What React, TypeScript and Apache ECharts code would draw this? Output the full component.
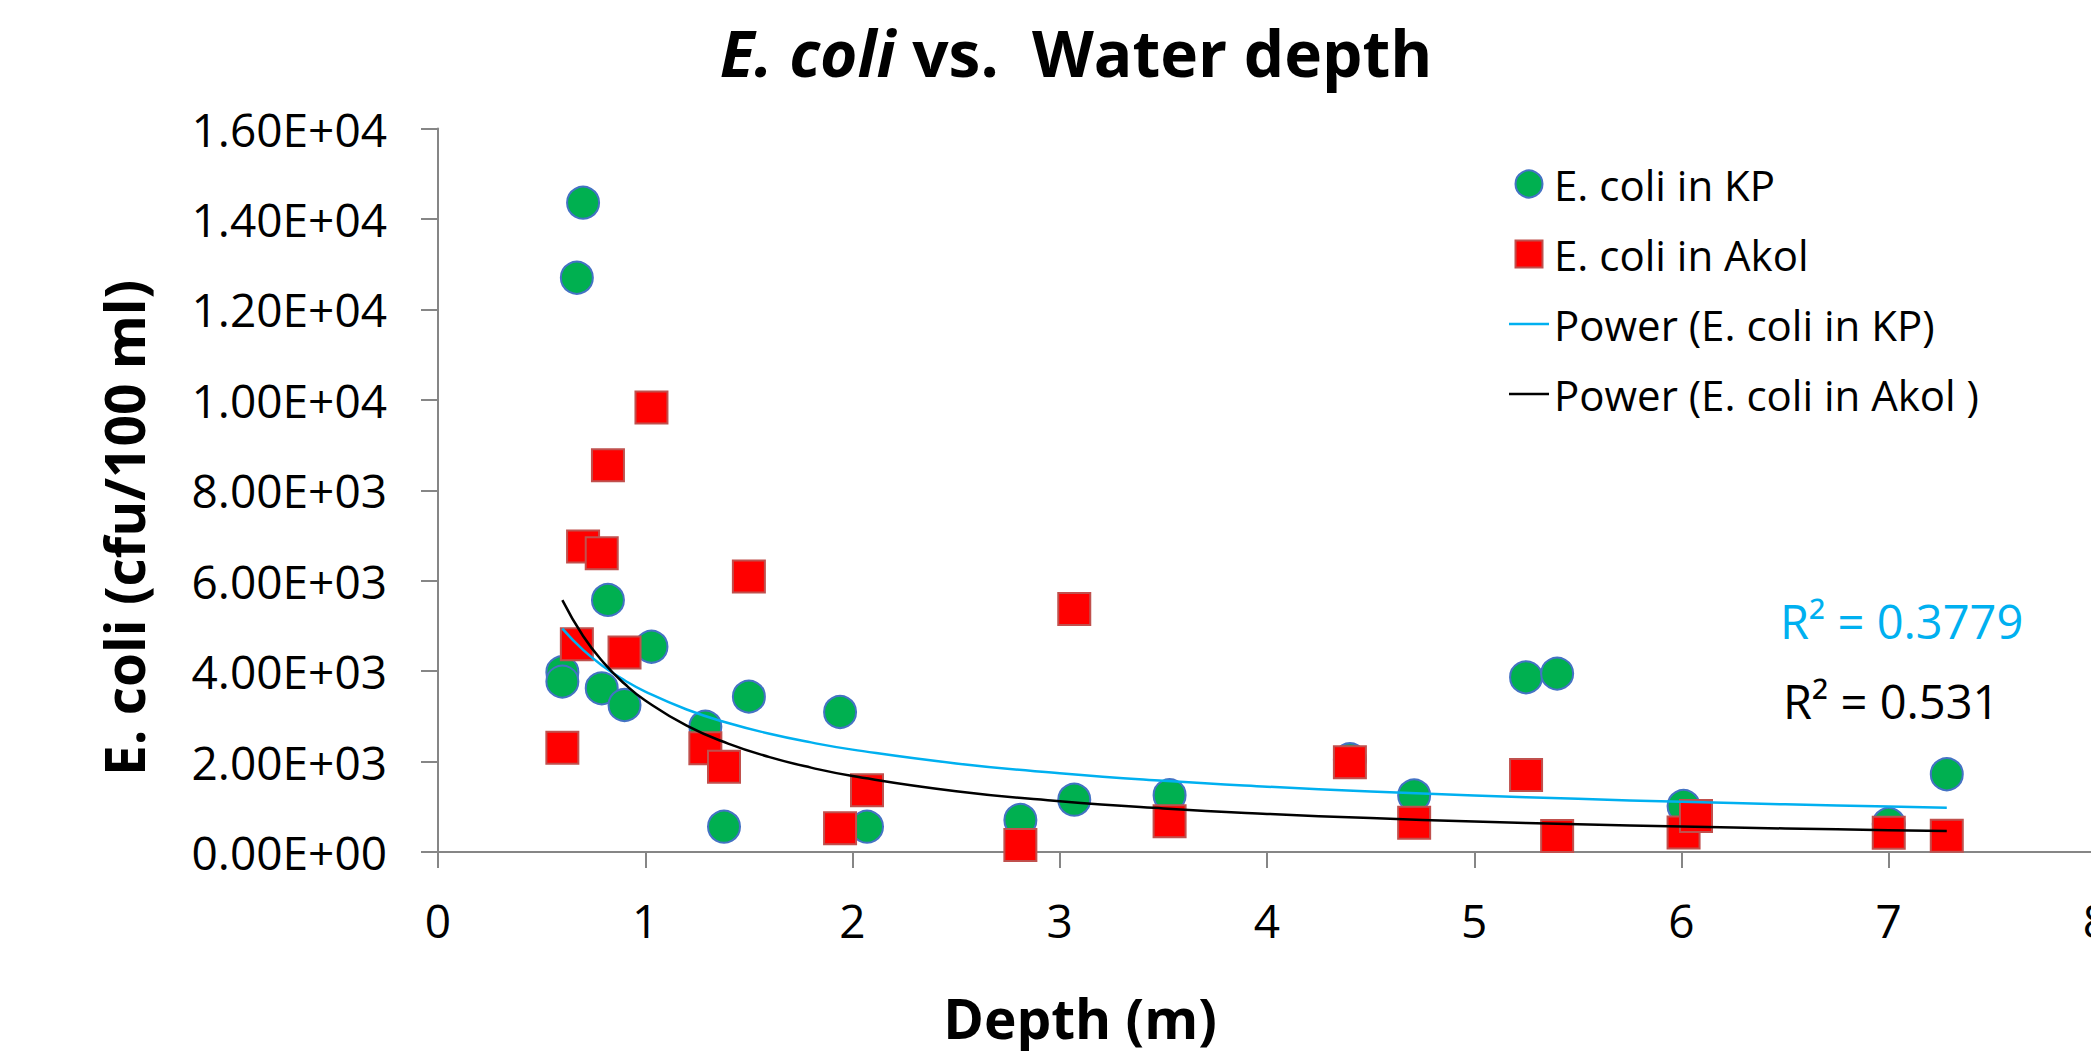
import React, { useEffect, useRef } from "react";
import * as echarts from "echarts";

// ---- Data ----
const kpDepth = [0.6, 0.6, 0.67, 0.7, 0.79, 0.82, 0.9, 1.03, 1.29, 1.38, 1.5, 1.94, 2.07, 2.81, 3.07, 3.53, 4.4, 4.71, 5.25, 5.4, 6.01, 7.0, 7.28];
const kpEcoli = [3975, 3768, 12700, 14360, 3620, 5575, 3250, 4540, 2772, 560, 3436, 3097, 560, 708, 1157, 1254, 2050, 1250, 3863, 3945, 1020, 620, 1719];

const akolDepth = [0.6, 0.67, 0.7, 0.79, 0.82, 0.9, 1.03, 1.29, 1.38, 1.5, 1.94, 2.07, 2.81, 3.07, 3.53, 4.4, 4.71, 5.25, 5.4, 6.01, 6.07, 7.0, 7.28];
const akolEcoli = [2308, 4595, 6755, 6608, 8555, 4410, 9830, 2294, 1888, 6091, 524, 1365, 155, 5374, 679, 1984, 648, 1701, 354, 429, 797, 427, 361];

// Power trend lines
const trendDepth = [0.6, 0.7, 0.8, 0.9, 1.0, 1.2, 1.4, 1.6, 1.8, 2.0, 2.5, 3.0, 3.5, 4.0, 4.5, 5.0, 5.5, 6.0, 6.5, 7.0, 7.28];
const kpTrend = [4939, 4469, 4099, 3798, 3547, 3152, 2852, 2616, 2424, 2264, 1959, 1741, 1575, 1445, 1338, 1250, 1175, 1111, 1055, 1005, 980];
const akolTrend = [5569, 4777, 4183, 3720, 3350, 2794, 2397, 2099, 1866, 1681, 1346, 1123, 963, 843, 750, 675, 614, 563, 520, 483, 465];

const seriesNames = ["E. coli in KP", "E. coli in Akol", "Power (E. coli in KP)", "Power (E. coli in Akol )"];
const r2Labels = ["R\u00B2 = 0.3779", "R\u00B2 = 0.531"];
const titleItalic = "E. coli";
const titleRest = " vs.  Water depth";
const xAxisTitle = "Depth (m)";
const yAxisTitle = "E. coli (cfu/100 ml)";

const xMin = 0, xMax = 8, xStep = 1;
const yMin = 0, yMax = 16000, yStep = 2000;

const FONT = "'Open Sans', 'Noto Sans', sans-serif";

function sci(v: number): string {
  const s = v.toExponential(2);
  const [m, e] = s.split("e");
  const n = parseInt(e, 10);
  const sign = n < 0 ? "-" : "+";
  return `${m}E${sign}${String(Math.abs(n)).padStart(2, "0")}`;
}

const zip = (xs: number[], ys: number[]) => xs.map((x, i) => [x, ys[i]]);

const LINE_ICON = "path://M0,0L40,0L40,2.5L0,2.5Z";
const SQUARE_ICON = "path://M0,0L10,0L10,10L0,10Z";

export default function App() {
  const ref = useRef<HTMLDivElement>(null);
  useEffect(() => {
    if (!ref.current) return;
    const chart = echarts.init(ref.current, undefined, { renderer: "svg" });
    const axisGray = "#868686";
    chart.setOption({
      animation: false,
      backgroundColor: "#ffffff",
      grid: { left: 438, top: 128.5, right: -5, bottom: 199, containLabel: false, outerBoundsMode: "none" },
      xAxis: {
        type: "value",
        min: xMin,
        max: xMax,
        interval: xStep,
        axisLine: { show: true, onZero: false, lineStyle: { color: axisGray, width: 2 } },
        axisTick: { show: true, inside: false, length: 16, lineStyle: { color: axisGray, width: 2 } },
        splitLine: { show: false },
        axisLabel: { show: true, margin: 45, color: "#000", fontFamily: FONT, fontSize: 46, hideOverlap: false },
      },
      yAxis: {
        type: "value",
        min: yMin,
        max: yMax,
        interval: yStep,
        axisLine: { show: true, lineStyle: { color: axisGray, width: 2 } },
        axisTick: { show: true, inside: false, length: 17, lineStyle: { color: axisGray, width: 2 } },
        splitLine: { show: false },
        axisLabel: { show: true, margin: 51, color: "#000", fontFamily: FONT, fontSize: 46, formatter: (v: number) => sci(v) },
      },
      legend: {
        orient: "vertical",
        left: 1504,
        top: 158,
        itemWidth: 40,
        itemHeight: 27,
        itemGap: 28,
        data: [
          { name: seriesNames[0], icon: "circle" },
          { name: seriesNames[1], icon: SQUARE_ICON },
          { name: seriesNames[2], icon: LINE_ICON },
          { name: seriesNames[3], icon: LINE_ICON },
        ],
        textStyle: { color: "#000", fontFamily: FONT, fontSize: 42 },
      },
      series: [
        {
          name: seriesNames[0],
          type: "scatter",
          symbol: "circle",
          symbolSize: 32,
          data: zip(kpDepth, kpEcoli),
          itemStyle: { color: "#00B050", borderColor: "#4472C4", borderWidth: 2, opacity: 1 },
        },
        {
          name: seriesNames[1],
          type: "scatter",
          symbol: "rect",
          symbolSize: 32,
          data: zip(akolDepth, akolEcoli),
          itemStyle: { color: "#FF0000", borderColor: "#C0504D", borderWidth: 2, opacity: 1 },
        },
        {
          name: seriesNames[2],
          type: "line",
          smooth: true,
          symbol: "none",
          data: zip(trendDepth, kpTrend),
          lineStyle: { color: "#00B0F0", width: 2.5 },
          itemStyle: { color: "#00B0F0" },
        },
        {
          name: seriesNames[3],
          type: "line",
          smooth: true,
          symbol: "none",
          data: zip(trendDepth, akolTrend),
          lineStyle: { color: "#000000", width: 2.5 },
          itemStyle: { color: "#000000" },
        },
      ],
      graphic: [
        {
          type: "text",
          x: 1076,
          y: 52,
          style: {
            text: `{i|${titleItalic}}{b|${titleRest}}`,
            align: "center",
            verticalAlign: "middle",
            rich: {
              i: { fontFamily: FONT, fontSize: 64, fontWeight: "bold", fontStyle: "italic", fill: "#000" },
              b: { fontFamily: FONT, fontSize: 64, fontWeight: "bold", fill: "#000" },
            },
          },
        },
        {
          type: "text",
          x: 1080,
          y: 1017,
          style: { text: xAxisTitle, align: "center", verticalAlign: "middle", fontFamily: FONT, fontSize: 55, fontWeight: "bold", fill: "#000" },
        },
        {
          type: "text",
          x: 123,
          y: 528,
          rotation: Math.PI / 2,
          style: { text: yAxisTitle, align: "center", verticalAlign: "middle", fontFamily: FONT, fontSize: 55, fontWeight: "bold", fill: "#000" },
        },
        {
          type: "text",
          x: 1780,
          y: 621,
          style: { text: r2Labels[0], align: "left", verticalAlign: "middle", fontFamily: FONT, fontSize: 47, fill: "#00B0F0" },
        },
        {
          type: "text",
          x: 1783,
          y: 701,
          style: { text: r2Labels[1], align: "left", verticalAlign: "middle", fontFamily: FONT, fontSize: 47, fill: "#000" },
        },
      ],
    });
    return () => chart.dispose();
  }, []);
  return (
    <div
      ref={ref}
      style={{ position: "absolute", left: 0, top: 0, width: 2091, height: 1051, overflow: "hidden", background: "#fff" }}
    />
  );
}
